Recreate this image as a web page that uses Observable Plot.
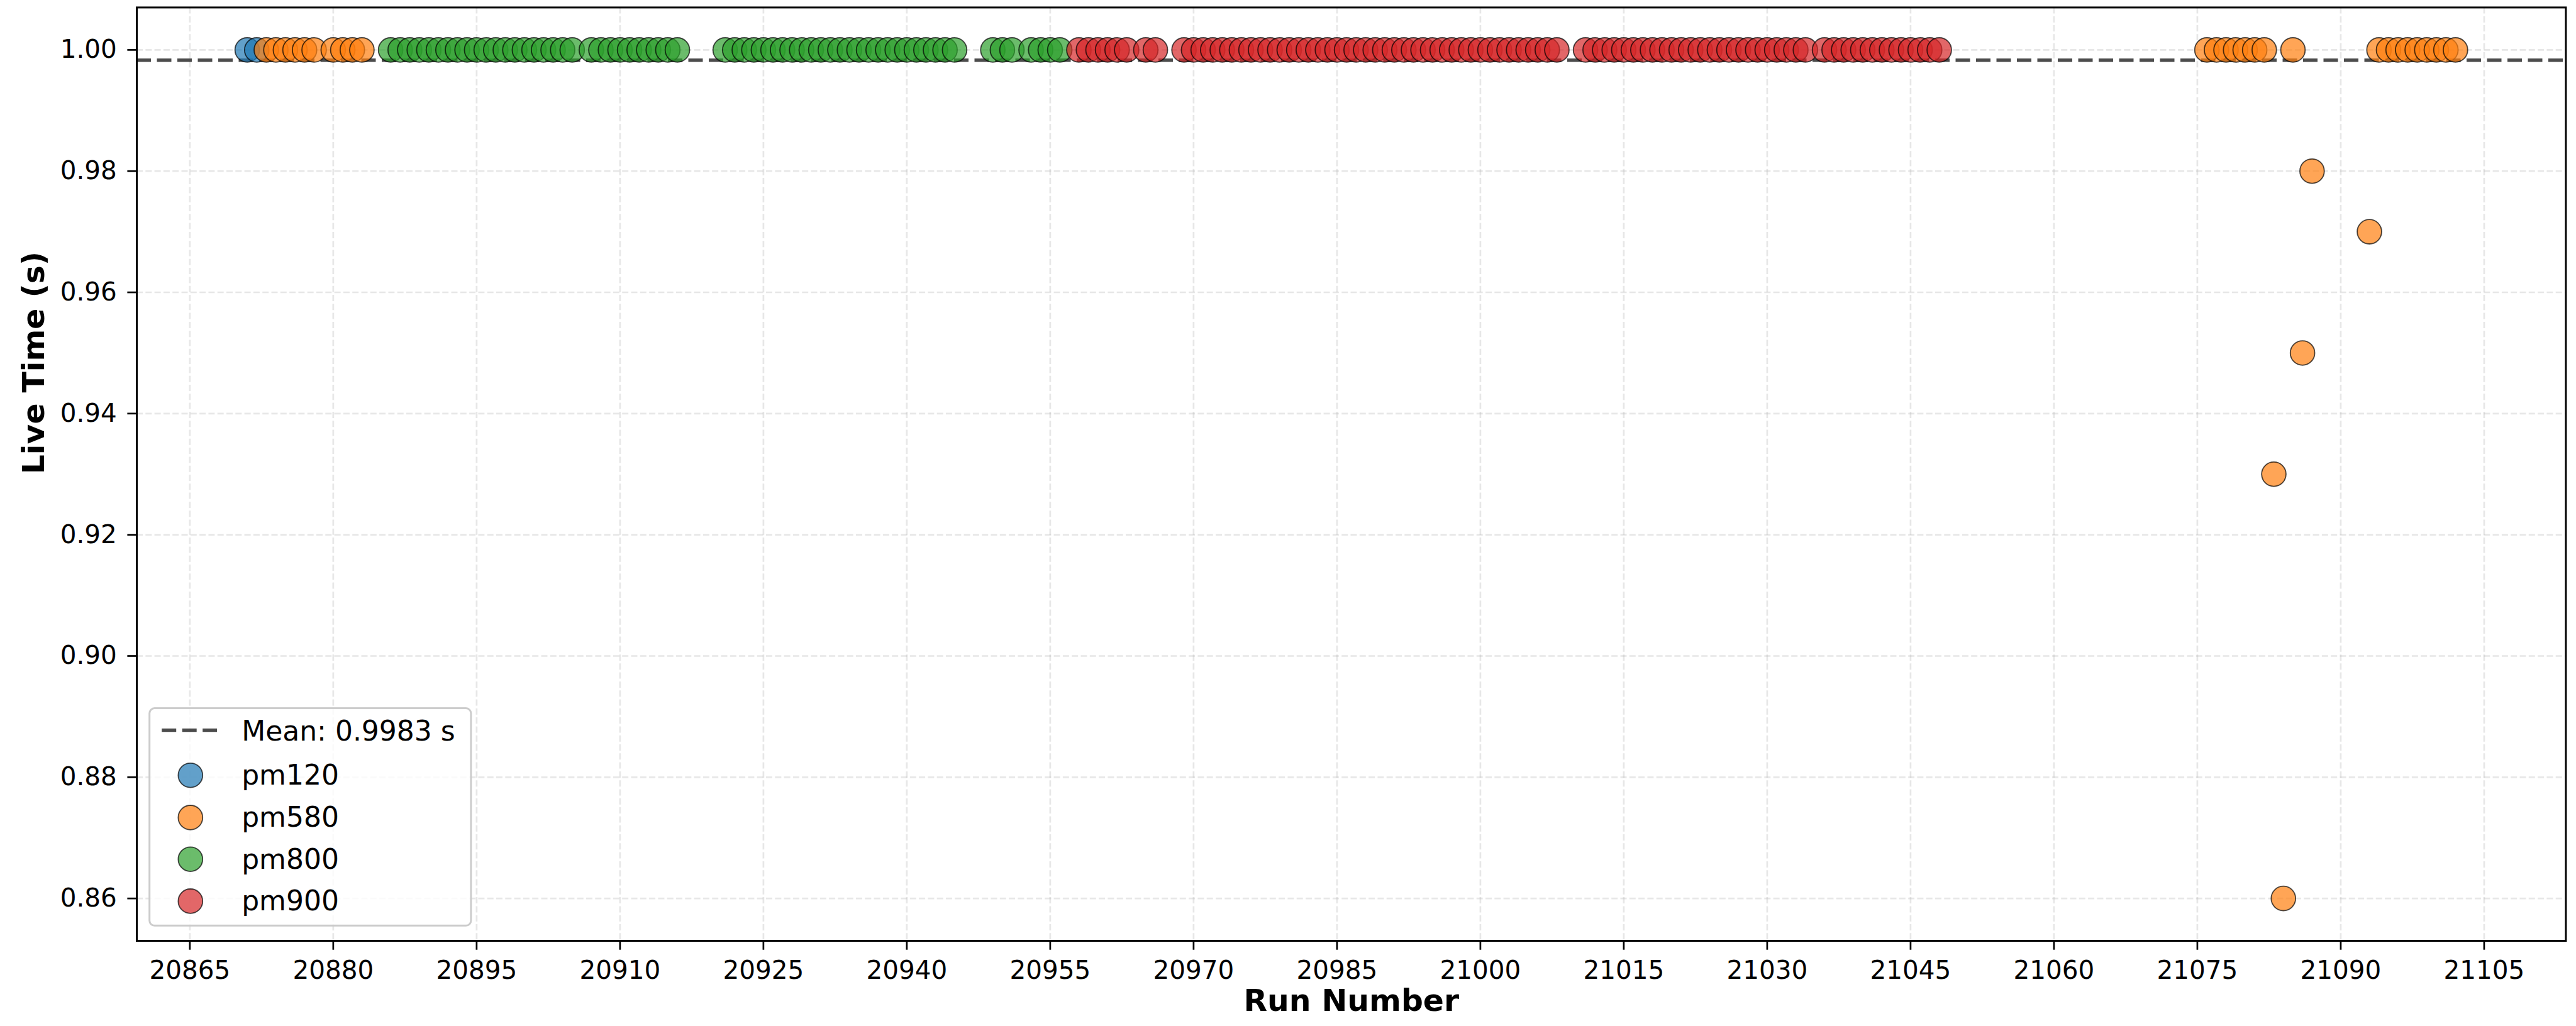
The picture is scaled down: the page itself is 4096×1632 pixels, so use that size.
<!DOCTYPE html>
<html>
<head>
<meta charset="utf-8">
<script src="https://cdn.jsdelivr.net/npm/d3@7"></script>
<script src="https://cdn.jsdelivr.net/npm/@observablehq/plot@0.6"></script>
<style>
  html, body { margin: 0; padding: 0; background: #fff; }
  svg { display: block; }
</style>
</head>
<body>
<div id="chart"></div>
<script>
// Live time per run, grouped by beam setting
const seriesNames = ["pm120", "pm580", "pm800", "pm900"];
const seriesColors = ["#1f77b4", "#ff7f0e", "#2ca02c", "#d62728"];

const pm120Runs = [20871, 20872];
const pm120Live = [1.00, 1.00];

const pm580Runs = [
  20873, 20874, 20875, 20876, 20877, 20878,
  20880, 20881, 20882, 20883,
  21076, 21077, 21078, 21079, 21080, 21081, 21082,
  21083, 21084, 21085, 21086, 21087,
  21093, 21094, 21095, 21096, 21097, 21098, 21099, 21100, 21101, 21102
];
const pm580Live = [
  1.00, 1.00, 1.00, 1.00, 1.00, 1.00,
  1.00, 1.00, 1.00, 1.00,
  1.00, 1.00, 1.00, 1.00, 1.00, 1.00, 1.00,
  0.93, 0.86, 1.00, 0.95, 0.98,
  0.97, 1.00, 1.00, 1.00, 1.00, 1.00, 1.00, 1.00, 1.00, 1.00
];

const pm800Runs = [
  20886, 20887, 20888, 20889, 20890, 20891, 20892, 20893, 20894, 20895,
  20896, 20897, 20898, 20899, 20900, 20901, 20902, 20903, 20904, 20905,
  20907, 20908, 20909, 20910, 20911, 20912, 20913, 20914, 20915, 20916,
  20921, 20922, 20923, 20924, 20925, 20926, 20927, 20928, 20929, 20930,
  20931, 20932, 20933, 20934, 20935, 20936, 20937, 20938, 20939, 20940,
  20941, 20942, 20943, 20944, 20945,
  20949, 20950, 20951,
  20953, 20954, 20955, 20956
];
const pm800Live = [
  1.00, 1.00, 1.00, 1.00, 1.00, 1.00, 1.00, 1.00, 1.00, 1.00,
  1.00, 1.00, 1.00, 1.00, 1.00, 1.00, 1.00, 1.00, 1.00, 1.00,
  1.00, 1.00, 1.00, 1.00, 1.00, 1.00, 1.00, 1.00, 1.00, 1.00,
  1.00, 1.00, 1.00, 1.00, 1.00, 1.00, 1.00, 1.00, 1.00, 1.00,
  1.00, 1.00, 1.00, 1.00, 1.00, 1.00, 1.00, 1.00, 1.00, 1.00,
  1.00, 1.00, 1.00, 1.00, 1.00,
  1.00, 1.00, 1.00,
  1.00, 1.00, 1.00, 1.00
];

const pm900Runs = [
  20958, 20959, 20960, 20961, 20962, 20963,
  20965, 20966,
  20969, 20970, 20971, 20972, 20973, 20974, 20975, 20976, 20977, 20978,
  20979, 20980, 20981, 20982, 20983, 20984, 20985, 20986, 20987, 20988,
  20989, 20990, 20991, 20992, 20993, 20994, 20995, 20996, 20997, 20998,
  20999, 21000, 21001, 21002, 21003, 21004, 21005, 21006, 21007, 21008,
  21011, 21012, 21013, 21014, 21015, 21016, 21017, 21018, 21019, 21020,
  21021, 21022, 21023, 21024, 21025, 21026, 21027, 21028, 21029, 21030,
  21031, 21032, 21033, 21034,
  21036, 21037, 21038, 21039, 21040, 21041, 21042, 21043, 21044, 21045,
  21046, 21047, 21048
];
const pm900Live = [
  1.00, 1.00, 1.00, 1.00, 1.00, 1.00,
  1.00, 1.00,
  1.00, 1.00, 1.00, 1.00, 1.00, 1.00, 1.00, 1.00, 1.00, 1.00,
  1.00, 1.00, 1.00, 1.00, 1.00, 1.00, 1.00, 1.00, 1.00, 1.00,
  1.00, 1.00, 1.00, 1.00, 1.00, 1.00, 1.00, 1.00, 1.00, 1.00,
  1.00, 1.00, 1.00, 1.00, 1.00, 1.00, 1.00, 1.00, 1.00, 1.00,
  1.00, 1.00, 1.00, 1.00, 1.00, 1.00, 1.00, 1.00, 1.00, 1.00,
  1.00, 1.00, 1.00, 1.00, 1.00, 1.00, 1.00, 1.00, 1.00, 1.00,
  1.00, 1.00, 1.00, 1.00,
  1.00, 1.00, 1.00, 1.00, 1.00, 1.00, 1.00, 1.00, 1.00, 1.00,
  1.00, 1.00, 1.00
];

const meanLiveTime = 0.9983;

const xTicks = [20865, 20880, 20895, 20910, 20925, 20940, 20955, 20970, 20985,
                21000, 21015, 21030, 21045, 21060, 21075, 21090, 21105];
const yTicks = [0.86, 0.88, 0.90, 0.92, 0.94, 0.96, 0.98, 1.00];

// flatten into one table for the dot mark
const runsBySeries = [pm120Runs, pm580Runs, pm800Runs, pm900Runs];
const liveBySeries = [pm120Live, pm580Live, pm800Live, pm900Live];
const rows = [];
seriesNames.forEach((name, i) => {
  runsBySeries[i].forEach((run, j) => rows.push({series: name, run, live: liveBySeries[i][j]}));
});

const FONT = "DejaVu Sans";
const meanDash = "23,9.5";

const chart = Plot.plot({
  width: 4096,
  height: 1632,
  marginLeft: 217,
  marginRight: 16.6,
  marginTop: 11.4,
  marginBottom: 135.9,
  style: {fontFamily: FONT, background: "#fff", color: "#000"},
  x: {domain: [20859.45, 21113.55]},
  y: {domain: [0.853, 1.007]},
  color: {domain: seriesNames, range: seriesColors},
  marks: [
    Plot.gridX(xTicks, {stroke: "#b0b0b0", strokeOpacity: 0.3, strokeWidth: 2.7, strokeDasharray: "10,4.3"}),
    Plot.gridY(yTicks, {stroke: "#b0b0b0", strokeOpacity: 0.3, strokeWidth: 2.7, strokeDasharray: "10,4.3"}),
    Plot.ruleY([meanLiveTime], {stroke: "#000", strokeOpacity: 0.7, strokeWidth: 5.5, strokeDasharray: meanDash}),
    Plot.dot(rows, {
      x: "run", y: "live", fill: "series", r: 19.4,
      fillOpacity: 0.7, stroke: "#000", strokeOpacity: 0.7, strokeWidth: 1.8
    }),
    Plot.frame({stroke: "#000", strokeWidth: 3}),
    Plot.axisX(xTicks, {
      tickSize: 14.6, tickPadding: 17, fontSize: 40.5, strokeWidth: 2.7,
      tickFormat: d => String(d), label: null
    }),
    Plot.axisY(yTicks, {
      tickSize: 14.6, tickPadding: 17, fontSize: 40.5, strokeWidth: 2.7,
      tickFormat: d3.format(".2f"), label: null
    }),
    Plot.text(["Run Number"], {
      text: d => d, frameAnchor: "bottom", dy: 111,
      fontSize: 48.8, fontWeight: "bold", fill: "#000"
    }),
    Plot.text(["Live Time (s)"], {
      text: d => d, frameAnchor: "left", dx: -163.6, rotate: -90,
      fontSize: 48.8, fontWeight: "bold", fill: "#000"
    })
  ]
});

document.getElementById("chart").appendChild(chart);

// Legend box in the lower-left corner of the plot area
const color = chart.scale("color");
const svg = d3.select(chart);
const lg = svg.append("g")
  .attr("font-family", FONT)
  .attr("font-size", 44)
  .attr("text-anchor", "start")
  .attr("fill", "#000");

lg.append("rect")
  .attr("x", 237.7).attr("y", 1126.6)
  .attr("width", 511.2).attr("height", 345.7)
  .attr("rx", 8)
  .attr("fill", "#fff").attr("fill-opacity", 0.8)
  .attr("stroke", "#cccccc").attr("stroke-width", 3);

const textX = 384.2;
const meanRowY = 1161.6;
lg.append("line")
  .attr("x1", 257.2).attr("x2", 345.1)
  .attr("y1", meanRowY).attr("y2", meanRowY)
  .attr("stroke", "#000").attr("stroke-opacity", 0.7)
  .attr("stroke-width", 5.5).attr("stroke-dasharray", meanDash);
lg.append("text")
  .attr("x", textX).attr("y", meanRowY + 16)
  .text(`Mean: ${d3.format(".4f")(meanLiveTime)} s`);

const rowYs = [1233.2, 1300.4, 1366.7, 1433.4];
seriesNames.forEach((name, i) => {
  lg.append("circle")
    .attr("cx", 302.8).attr("cy", rowYs[i]).attr("r", 19.4)
    .attr("fill", color.apply(name)).attr("fill-opacity", 0.7)
    .attr("stroke", "#000").attr("stroke-opacity", 0.7).attr("stroke-width", 1.8);
  lg.append("text")
    .attr("x", textX).attr("y", rowYs[i] + 15)
    .text(name);
});
</script>
</body>
</html>
